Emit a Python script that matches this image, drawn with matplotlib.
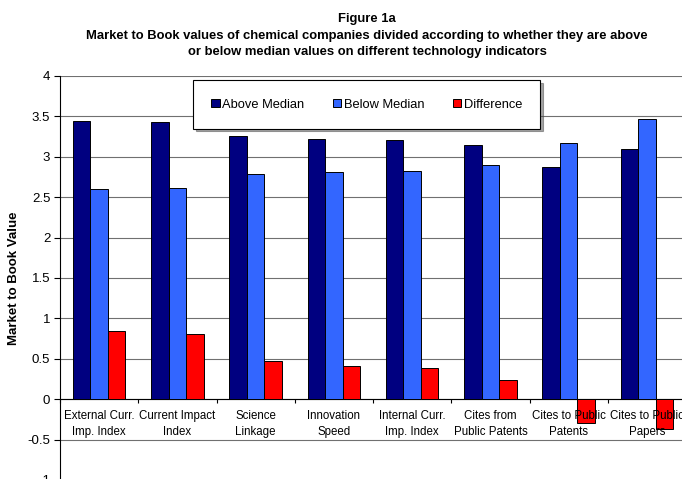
import matplotlib
matplotlib.use("Agg")
import matplotlib.pyplot as plt
import numpy as np

categories = ["External Curr.\nImp. Index", "Current Impact\nIndex", "Science\nLinkage",
              "Innovation\nSpeed", "Internal Curr.\nImp. Index", "Cites from\nPublic Patents",
              "Cites to Public\nPatents", "Cites to Public\nPapers"]
above = [3.44, 3.43, 3.26, 3.22, 3.21, 3.14, 2.87, 3.10]
below = [2.60, 2.62, 2.79, 2.81, 2.83, 2.90, 3.17, 3.47]
diff = [0.84, 0.81, 0.47, 0.41, 0.38, 0.24, -0.30, -0.37]
series_names = ["Above Median", "Below Median", "Difference"]
colors = ["#000080", "#3366FF", "#FF0000"]
yticks = [-1, -0.5, 0, 0.5, 1, 1.5, 2, 2.5, 3, 3.5, 4]

plt.rcParams['font.family'] = ['Liberation Sans', 'DejaVu Sans']

W, H = 682, 479
fig = plt.figure(figsize=(W / 100, H / 100), dpi=100)
left, right, top, bottom = 60, 686, 76, 480
ax = fig.add_axes([left / W, 1 - bottom / H, (right - left) / W, (bottom - top) / H])

n = len(categories)
x = np.arange(n) + 0.5
bw = 0.2235
for k, (vals, c, name) in enumerate(zip([above, below, diff], colors, series_names)):
    ax.bar(x + (k - 1) * bw, vals, width=bw, color=c, edgecolor="black", linewidth=0.7,
           label=name, zorder=3)

ax.set_xlim(0, n)
ax.set_ylim(-1, 4)
ax.set_yticks(yticks)
ax.set_yticklabels([f"{v:g}" for v in yticks], fontsize=9.5)
ax.yaxis.grid(True, color="#707070", linewidth=0.8, zorder=0)
ax.set_axisbelow(True)
ax.tick_params(axis='y', direction='out', length=4, width=0.8, pad=3)

ax.spines['top'].set_visible(False)
ax.spines['right'].set_visible(False)
ax.spines['bottom'].set_position(('data', 0))
ax.spines['bottom'].set_linewidth(0.8)
ax.spines['left'].set_linewidth(0.8)
ax.set_xticks(np.arange(0, n + 1))
ax.set_xticklabels([])
ax.tick_params(axis='x', direction='out', length=3, width=0.8)

for xi, lab in zip(x, categories):
    ax.text(xi, -0.13, lab, ha='center', va='top', fontsize=8.3, zorder=5, linespacing=1.45)

ax.set_ylabel("Market to Book Value", fontsize=9.5, fontweight='bold', labelpad=5)

fig.text(367 / W, 1 - 19 / H, "Figure 1a", ha='center', va='center', fontsize=9.4, fontweight='bold')
fig.text(367 / W, 1 - 36 / H,
         "Market to Book values of chemical companies divided according to whether they are above",
         ha='center', va='center', fontsize=9.4, fontweight='bold')
fig.text(367 / W, 1 - 52 / H,
         "or below median values on different technology indicators",
         ha='center', va='center', fontsize=9.4, fontweight='bold')

lx0, lx1, ly0, ly1 = 193, 540, 79, 130
leg = ax.legend(loc='center', bbox_to_anchor=(((lx0 + lx1) / 2) / W, 1 - ((ly0 + ly1) / 2) / H),
                bbox_transform=fig.transFigure, ncol=3, fontsize=9.3, frameon=True,
                fancybox=False, shadow=True, edgecolor='black', handlelength=0.65,
                handleheight=0.65, handletextpad=0.2, columnspacing=2.2, borderpad=1.4)
leg.get_frame().set_linewidth(0.8)
leg.set_zorder(10)

fig.savefig("out.png", dpi=100)
